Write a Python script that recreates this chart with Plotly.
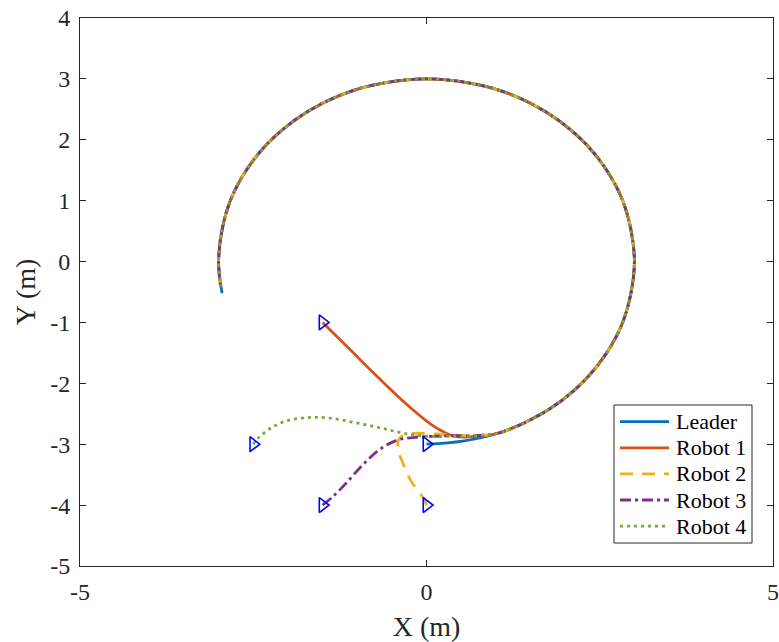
import plotly.graph_objects as go

# Leader path: circle of radius 3 traversed counter-clockwise from (0, -3)
leader_x = [0.0, 0.52, 1.03, 1.50, 1.93, 2.30, 2.60, 2.82, 2.95, 3.00,
            2.95, 2.82, 2.60, 2.30, 1.93, 1.50, 1.03, 0.52, 0.00, -0.52,
            -1.03, -1.50, -1.93, -2.30, -2.60, -2.82, -2.95, -3.00, -2.95]
leader_y = [-3.0, -2.95, -2.82, -2.60, -2.30, -1.93, -1.50, -1.03, -0.52, 0.00,
            0.52, 1.03, 1.50, 1.93, 2.30, 2.60, 2.82, 2.95, 3.00, 2.95,
            2.82, 2.60, 2.30, 1.93, 1.50, 1.03, 0.52, 0.00, -0.52]

# Approach segments of each follower before it settles onto the leader path
r1_x = [-1.50, -1.10, -0.70, -0.30, 0.05, 0.25, 0.40, 0.62]
r1_y = [-1.00, -1.45, -1.90, -2.33, -2.66, -2.80, -2.87, -2.88]
r2_x = [0.00, -0.03, -0.22, -0.34, -0.41, -0.40, -0.30, -0.10, 0.10, 0.40, 0.70]
r2_y = [-4.00, -3.91, -3.61, -3.31, -3.09, -2.92, -2.84, -2.82, -2.83, -2.85, -2.86]
r3_x = [-1.50, -1.35, -1.16, -0.92, -0.68, -0.44, -0.20, 0.09, 0.40, 0.70]
r3_y = [-4.00, -3.86, -3.64, -3.34, -3.09, -2.94, -2.89, -2.87, -2.86, -2.86]
r4_x = [-2.50, -2.43, -2.21, -1.97, -1.68, -1.40, -1.01, -0.63, -0.29, 0.04, 0.40, 0.70]
r4_y = [-3.00, -2.90, -2.71, -2.60, -2.56, -2.57, -2.65, -2.74, -2.83, -2.87, -2.87, -2.86]

# Followers stop slightly behind the leader
follower_end_x = [-2.97]
follower_end_y = [-0.42]

names = ["Leader", "Robot 1", "Robot 2", "Robot 3", "Robot 4"]
colors = ["#0072BD", "#D95319", "#EDB120", "#7E2F8E", "#77AC30"]
dashes = ["solid", "solid", "13px,9px", "11px,4px,3px,4px", "3px,4px"]
LINE_W = 2.8

paths = [
    (leader_x, leader_y),
    (r1_x + leader_x[2:-1] + follower_end_x, r1_y + leader_y[2:-1] + follower_end_y),
    (r2_x + leader_x[2:-1] + follower_end_x, r2_y + leader_y[2:-1] + follower_end_y),
    (r3_x + leader_x[2:-1] + follower_end_x, r3_y + leader_y[2:-1] + follower_end_y),
    (r4_x + leader_x[2:-1] + follower_end_x, r4_y + leader_y[2:-1] + follower_end_y),
]

fig = go.Figure()
for (px, py), name, col, dsh in zip(paths, names, colors, dashes):
    fig.add_trace(go.Scatter(
        x=px, y=py, mode="lines", name=name, showlegend=False,
        line=dict(color=col, width=LINE_W, dash=dsh, shape="spline", smoothing=1.0),
    ))

# Initial positions
fig.add_trace(go.Scatter(
    x=[p[0][0] for p in paths], y=[p[1][0] for p in paths],
    mode="markers", showlegend=False, name="Start",
    marker=dict(symbol="triangle-right-open", size=13,
                color="#0000FF", line=dict(color="#0000FF", width=1.6)),
))

font_family = "Liberation Serif, Times New Roman, serif"

# Figure geometry (pixels)
W, H = 779, 642
ML, MR, MT, MB = 80, 6, 18, 76
plot_w = W - ML - MR
plot_h = H - MT - MB


def px_to_paper(px, py):
    return (px - ML) / plot_w, (H - MB - py) / plot_h


# Boxed legend in the lower-right corner of the axes
leg_left, leg_top, leg_right, leg_bottom = 614, 405, 752, 543
row_top, row_step = 421.7, 26.1
sample_x0, sample_x1, text_x = 620, 669, 674

shapes = []
annotations = []
bx0, by0 = px_to_paper(leg_left, leg_bottom)
bx1, by1 = px_to_paper(leg_right, leg_top)
shapes.append(dict(type="rect", xref="paper", yref="paper", x0=bx0, y0=by0, x1=bx1, y1=by1,
                   fillcolor="white", line=dict(color="#262626", width=1), layer="above"))
for i, (name, col, dsh) in enumerate(zip(names, colors, dashes)):
    ry = row_top + i * row_step
    lx0, ly = px_to_paper(sample_x0, ry)
    lx1, _ = px_to_paper(sample_x1, ry)
    tx, _ = px_to_paper(text_x, ry)
    shapes.append(dict(type="line", xref="paper", yref="paper", x0=lx0, x1=lx1, y0=ly, y1=ly,
                       line=dict(color=col, width=LINE_W, dash=dsh), layer="above"))
    annotations.append(dict(text=name, xref="paper", yref="paper", x=tx, y=ly,
                            xanchor="left", yanchor="middle", showarrow=False,
                            font=dict(family=font_family, size=22, color="#000000")))

axis_common = dict(
    showline=True, mirror="ticks", linecolor="#262626", linewidth=1,
    ticks="inside", ticklen=6, tickcolor="#262626",
    showgrid=False, zeroline=False, automargin=False,
    tickfont=dict(family=font_family, size=24, color="#262626"),
)

fig.update_layout(
    width=W, height=H,
    margin=dict(l=ML, r=MR, t=MT, b=MB),
    paper_bgcolor="white", plot_bgcolor="white",
    showlegend=False,
    shapes=shapes,
    annotations=annotations,
)
fig.update_xaxes(
    range=[-5, 5], tickvals=[-5, 0, 5], ticktext=["-5", "0", "5"],
    ticklabelstandoff=4, ticklabeloverflow="allow",
    title=dict(text="X (m)", font=dict(family=font_family, size=28, color="#262626"), standoff=12),
    **axis_common,
)
fig.update_yaxes(
    range=[-5, 4], tickvals=list(range(-5, 5)), ticktext=[str(v) for v in range(-5, 5)],
    ticklabelstandoff=4, ticklabeloverflow="allow",
    title=dict(text="Y (m)", font=dict(family=font_family, size=28, color="#262626"), standoff=6),
    **axis_common,
)

fig.write_html("out.html")
